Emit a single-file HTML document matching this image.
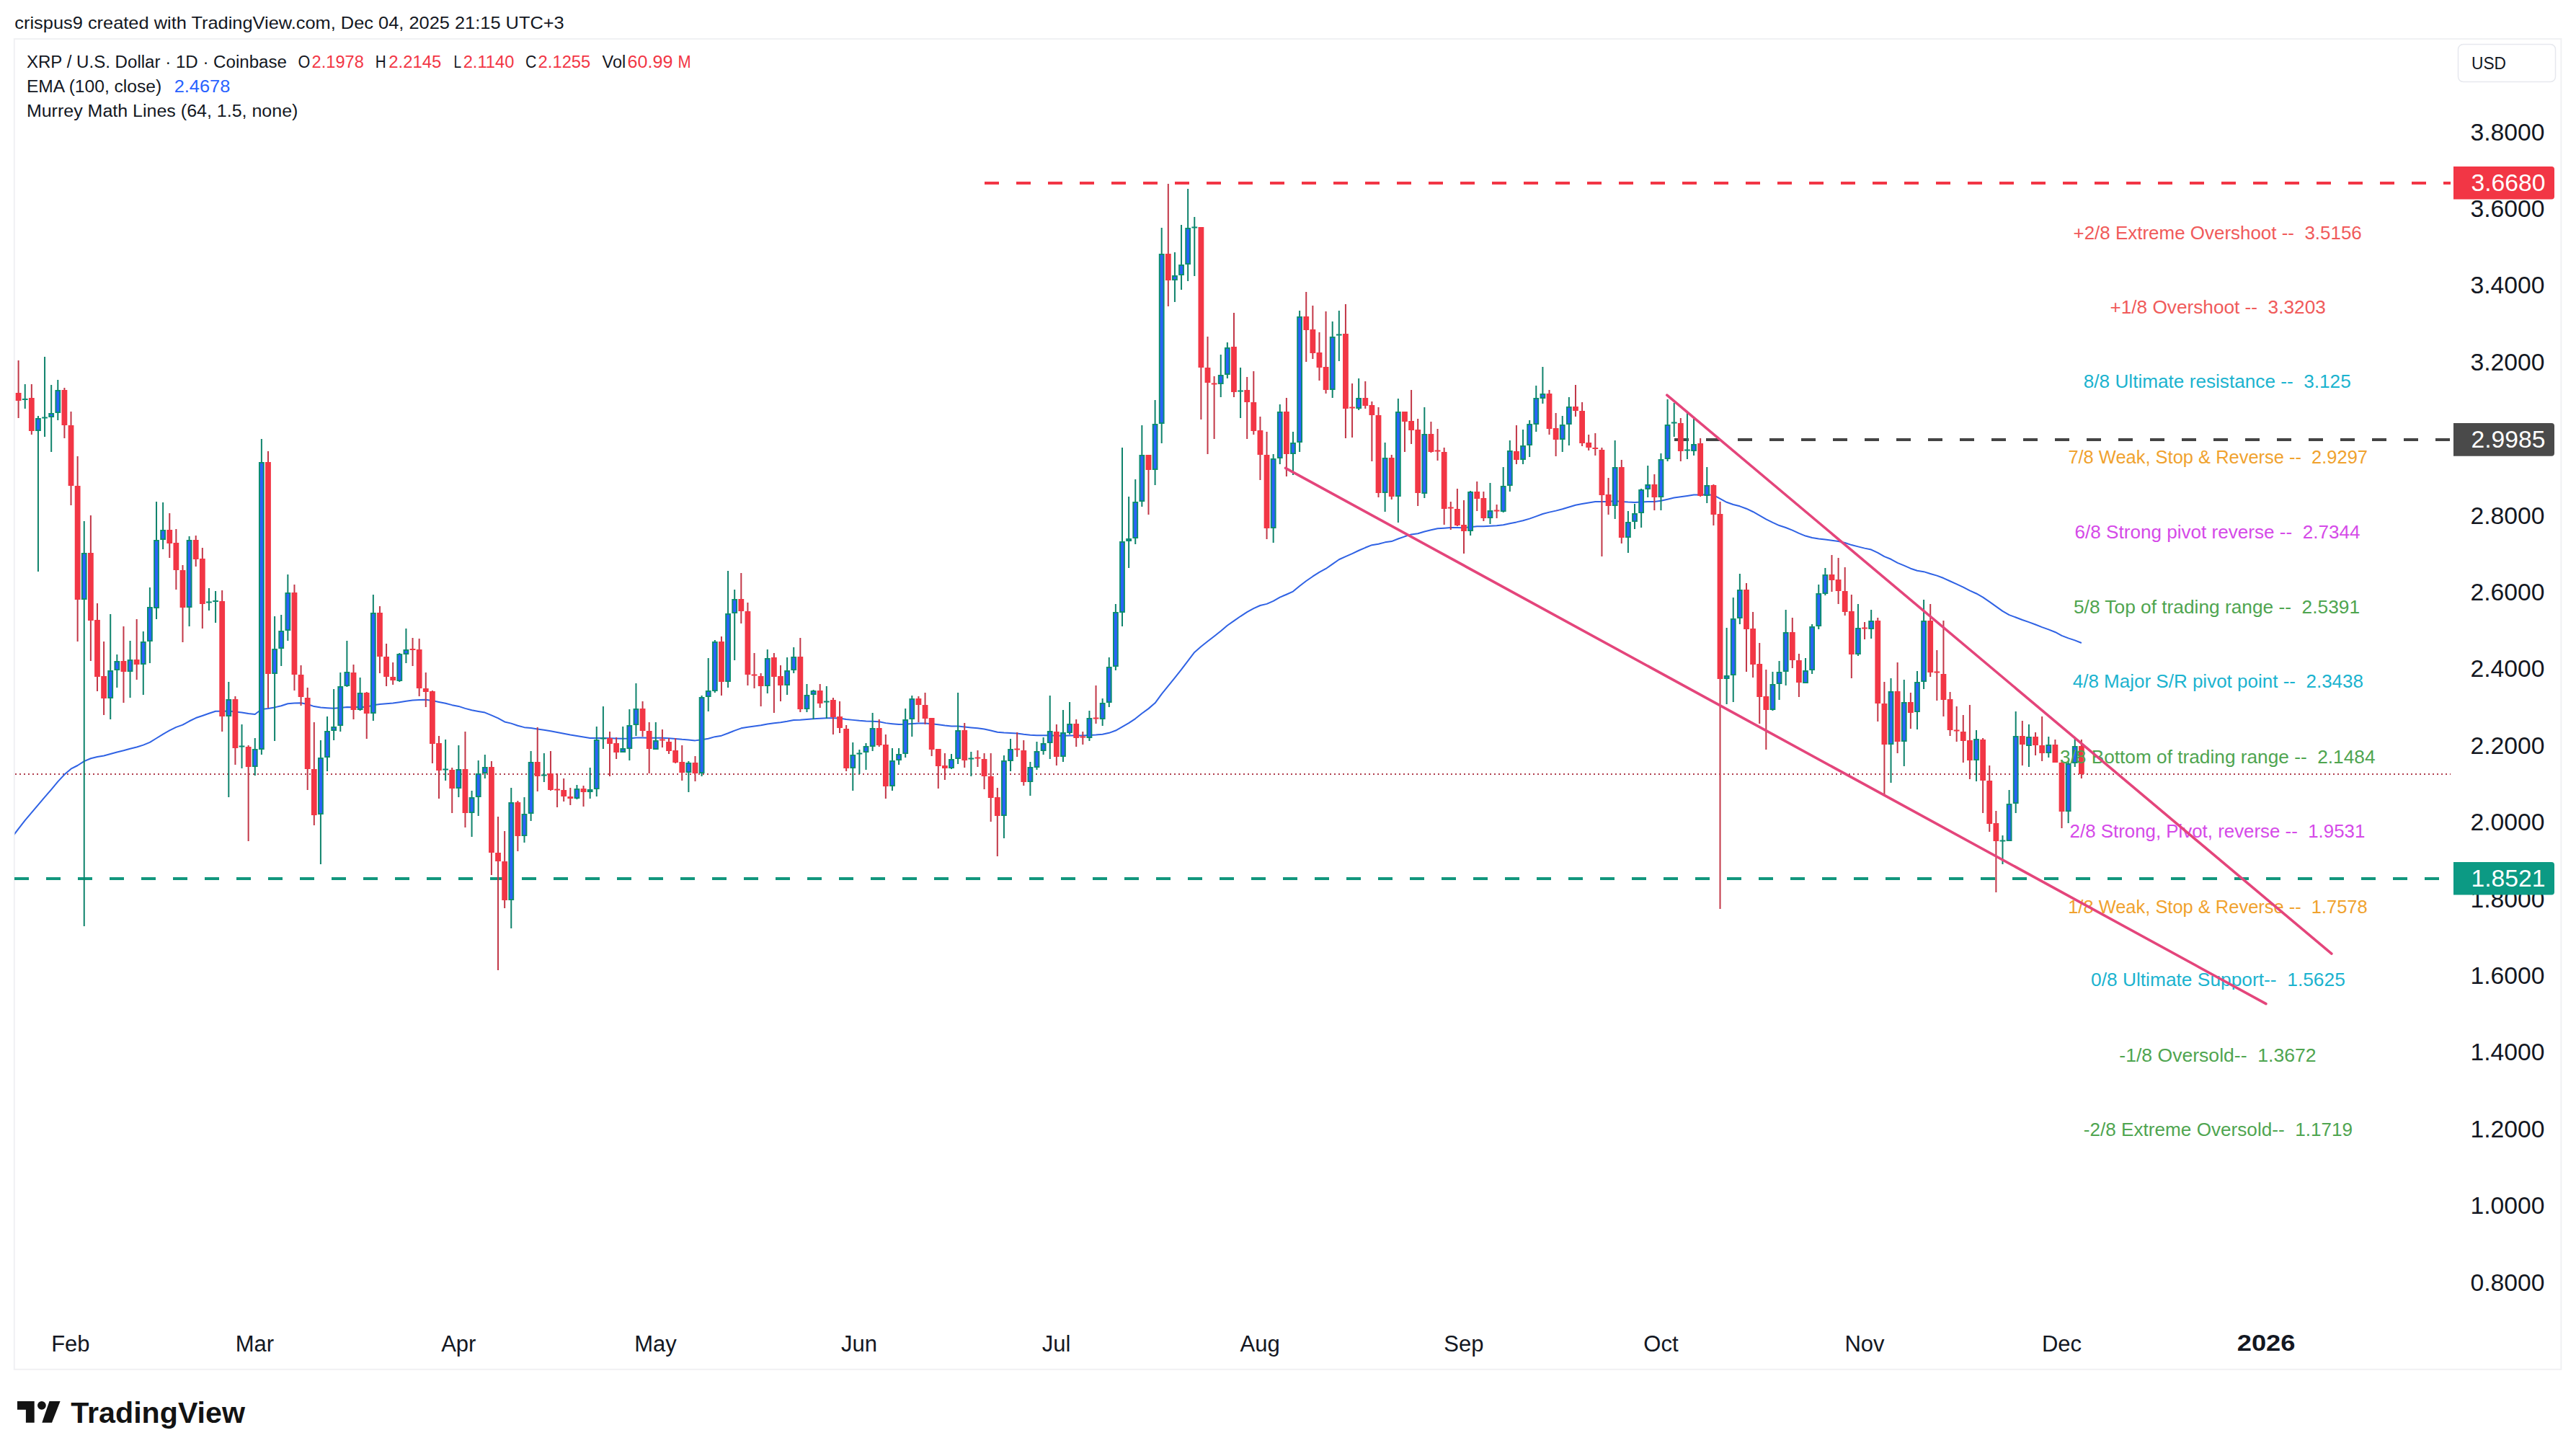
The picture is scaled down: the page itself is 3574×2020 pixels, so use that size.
<!DOCTYPE html>
<html><head><meta charset="utf-8"><title>XRP / U.S. Dollar chart</title>
<style>
html,body{margin:0;padding:0;background:#ffffff;}
body{width:3574px;height:2020px;overflow:hidden;position:relative;font-family:"Liberation Sans", sans-serif;}
svg{position:absolute;left:0;top:0;}
</style></head><body>
<svg width="3574" height="2020" viewBox="0 0 3574 2020" font-family='"Liberation Sans", sans-serif'>
<rect x="0" y="0" width="3574" height="2020" fill="#ffffff"/>
<rect x="19.8" y="54" width="3533.6" height="1845.8" fill="none" stroke="#f0f1f3" stroke-width="2"/>

<path d="M1366 254H3400" stroke="#f23645" stroke-width="4" stroke-dasharray="20 24"/>
<path d="M2323 610H3400" stroke="#444444" stroke-width="4" stroke-dasharray="20 24"/>
<path d="M20 1219H3400" stroke="#12967d" stroke-width="4" stroke-dasharray="20 24"/>
<path d="M21 1074H3400" stroke="#b03e4e" stroke-width="2" stroke-dasharray="2 4"/>
<clipPath id="cp"><rect x="20.5" y="54" width="3380" height="1845"/></clipPath>
<path d="M16.48 1161.88 L25.60 1149.88 L34.72 1138.06 L43.83 1127.37 L52.95 1116.53 L62.06 1105.89 L71.18 1095.33 L80.29 1084.36 L89.41 1074.57 L98.52 1066.64 L107.64 1061.99 L116.75 1056.15 L125.87 1052.28 L134.99 1050.04 L144.10 1048.44 L153.22 1046.09 L162.33 1043.53 L171.45 1041.33 L180.56 1038.82 L189.68 1036.51 L198.79 1033.61 L207.91 1029.81 L217.03 1024.25 L226.14 1018.53 L235.26 1013.29 L244.37 1008.89 L253.49 1005.60 L262.60 1000.52 L271.72 996.07 L280.83 992.94 L289.95 989.82 L299.07 986.71 L308.18 986.86 L317.30 986.52 L326.41 987.54 L335.53 988.48 L344.64 989.98 L353.76 990.95 L362.87 984.02 L371.99 983.05 L381.10 981.40 L390.22 979.30 L399.34 976.18 L408.45 975.39 L417.57 975.22 L426.68 977.04 L435.80 980.09 L444.91 981.49 L454.03 982.13 L463.14 982.65 L472.26 982.04 L481.38 981.05 L490.49 981.13 L499.61 980.73 L508.72 980.91 L517.84 978.32 L526.95 976.99 L536.07 976.23 L545.18 975.60 L554.30 974.24 L563.41 972.79 L572.53 971.39 L581.65 971.06 L590.76 970.84 L599.88 972.05 L608.99 973.97 L618.11 975.81 L627.22 978.15 L636.34 979.91 L645.45 982.85 L654.57 985.29 L663.69 987.02 L672.80 988.55 L681.92 992.40 L691.03 996.41 L700.15 1001.41 L709.26 1003.62 L718.38 1006.72 L727.49 1009.14 L736.61 1010.09 L745.72 1011.41 L754.84 1012.67 L763.96 1014.32 L773.07 1015.94 L782.19 1017.70 L791.30 1019.49 L800.42 1020.97 L809.53 1022.51 L818.65 1023.95 L827.76 1023.99 L836.88 1023.99 L846.00 1024.15 L855.11 1024.54 L864.23 1024.81 L873.34 1024.43 L882.46 1023.61 L891.57 1023.42 L900.69 1023.73 L909.80 1023.80 L918.92 1023.86 L928.03 1024.22 L937.15 1024.89 L946.27 1025.82 L955.38 1026.46 L964.50 1027.38 L973.61 1026.18 L982.73 1024.83 L991.84 1022.16 L1000.96 1020.65 L1010.07 1017.30 L1019.19 1013.61 L1028.31 1010.33 L1037.42 1008.86 L1046.54 1007.43 L1055.65 1006.33 L1064.77 1004.49 L1073.88 1003.19 L1083.00 1002.16 L1092.11 1000.73 L1101.23 998.95 L1110.34 998.65 L1119.46 997.97 L1128.58 997.18 L1137.69 996.76 L1146.81 996.29 L1155.92 996.26 L1165.04 996.53 L1174.15 997.91 L1183.27 998.88 L1192.38 999.79 L1201.50 1000.49 L1210.62 1000.68 L1219.73 1001.34 L1228.85 1003.12 L1237.96 1004.14 L1247.08 1004.97 L1256.19 1004.83 L1265.31 1004.12 L1274.42 1003.61 L1283.54 1003.48 L1292.65 1004.20 L1301.77 1005.36 L1310.89 1006.56 L1320.00 1007.48 L1329.12 1007.59 L1338.23 1008.53 L1347.35 1009.39 L1356.46 1010.24 L1365.58 1011.56 L1374.69 1013.45 L1383.81 1015.80 L1392.92 1016.57 L1402.04 1017.02 L1411.16 1017.47 L1420.27 1018.81 L1429.39 1019.70 L1438.50 1020.14 L1447.62 1020.36 L1456.73 1020.23 L1465.85 1020.82 L1474.96 1020.73 L1484.08 1020.40 L1493.20 1020.47 L1502.31 1020.52 L1511.43 1020.03 L1520.54 1019.58 L1529.66 1018.69 L1538.77 1016.84 L1547.89 1013.51 L1557.00 1008.32 L1566.12 1003.14 L1575.24 997.06 L1584.35 989.81 L1593.47 983.12 L1602.58 975.30 L1611.70 962.96 L1620.81 951.59 L1629.93 940.31 L1639.04 928.96 L1648.16 916.82 L1657.27 904.90 L1666.39 897.08 L1675.51 889.83 L1684.62 882.77 L1693.74 875.58 L1702.85 867.79 L1711.97 861.38 L1721.08 855.05 L1730.20 849.17 L1739.31 844.20 L1748.43 839.98 L1757.55 837.86 L1766.66 833.86 L1775.78 828.66 L1784.89 824.72 L1794.01 820.55 L1803.12 812.99 L1812.24 805.96 L1821.35 799.71 L1830.47 793.97 L1839.58 788.96 L1848.70 782.59 L1857.82 776.28 L1866.93 772.13 L1876.05 768.05 L1885.16 763.77 L1894.28 759.80 L1903.39 756.16 L1912.51 754.73 L1921.62 752.36 L1930.74 751.10 L1939.86 747.54 L1948.97 744.32 L1958.09 741.40 L1967.20 740.26 L1976.32 737.53 L1985.43 735.34 L1994.55 733.17 L2003.66 732.64 L2012.78 732.09 L2021.89 732.03 L2031.01 732.13 L2040.13 731.13 L2049.24 730.36 L2058.36 730.13 L2067.47 729.69 L2076.59 729.28 L2085.70 728.19 L2094.82 726.15 L2103.93 724.40 L2113.05 722.29 L2122.16 719.63 L2131.28 716.32 L2140.40 712.94 L2149.51 710.61 L2158.63 708.62 L2167.74 706.25 L2176.86 703.43 L2185.97 700.79 L2195.09 699.09 L2204.20 697.54 L2213.32 696.07 L2222.44 695.89 L2231.55 696.01 L2240.67 695.06 L2249.78 696.07 L2258.90 696.62 L2268.01 696.92 L2277.13 696.57 L2286.24 696.08 L2295.36 695.96 L2304.47 694.79 L2313.59 692.70 L2322.71 690.59 L2331.82 689.31 L2340.94 688.01 L2350.05 686.59 L2359.17 686.62 L2368.28 686.35 L2377.40 686.89 L2386.51 691.95 L2395.63 696.80 L2404.75 699.99 L2413.86 702.33 L2422.98 705.71 L2432.09 709.99 L2441.21 715.08 L2450.32 720.42 L2459.44 724.95 L2468.55 729.05 L2477.67 731.98 L2486.79 735.62 L2495.90 739.81 L2505.02 743.58 L2514.13 746.06 L2523.25 747.58 L2532.36 748.56 L2541.48 749.68 L2550.59 751.07 L2559.71 753.01 L2568.82 756.08 L2577.94 758.36 L2587.06 760.61 L2596.17 762.59 L2605.29 766.82 L2614.40 772.09 L2623.52 775.79 L2632.63 780.81 L2641.75 784.63 L2650.86 788.68 L2659.98 791.79 L2669.10 793.16 L2678.21 795.93 L2687.33 798.65 L2696.44 802.06 L2705.56 806.24 L2714.67 810.35 L2723.79 814.66 L2732.90 819.42 L2742.02 823.49 L2751.13 828.63 L2760.25 834.86 L2769.37 841.43 L2778.48 847.86 L2787.60 853.15 L2796.71 856.47 L2805.83 859.97 L2814.94 863.18 L2824.06 866.56 L2833.17 870.09 L2842.29 873.32 L2851.41 876.98 L2860.52 881.91 L2869.64 885.41 L2878.75 888.38 L2887.87 892.05" fill="none" stroke="#2f62e4" stroke-width="2" stroke-linejoin="round" clip-path="url(#cp)"/>
<path d="M24.60 500.0h2V580.0h-2zM42.83 533.0h2V603.0h-2zM88.41 538.0h2V608.0h-2zM97.52 571.0h2V701.0h-2zM106.64 633.0h2V890.0h-2zM124.87 715.0h2V917.0h-2zM133.99 837.0h2V959.0h-2zM143.10 890.0h2V992.0h-2zM170.45 869.0h2V975.0h-2zM188.68 859.0h2V943.0h-2zM234.26 712.0h2V774.0h-2zM243.37 734.0h2V818.0h-2zM252.49 784.0h2V891.0h-2zM270.72 743.0h2V786.0h-2zM279.83 760.0h2V872.0h-2zM307.18 819.0h2V1015.0h-2zM325.41 966.0h2V1061.0h-2zM343.64 1034.0h2V1167.0h-2zM370.99 626.0h2V982.0h-2zM407.45 811.0h2V958.0h-2zM416.57 923.0h2V979.0h-2zM425.68 954.0h2V1096.0h-2zM434.80 1002.0h2V1145.0h-2zM489.49 922.0h2V998.0h-2zM507.72 960.0h2V1025.0h-2zM525.95 841.0h2V934.0h-2zM535.07 893.0h2V952.0h-2zM544.18 919.0h2V950.0h-2zM571.53 885.0h2V924.0h-2zM580.65 886.0h2V966.0h-2zM589.76 933.0h2V981.0h-2zM598.88 958.0h2V1059.0h-2zM607.99 1021.0h2V1108.0h-2zM626.22 1065.0h2V1128.0h-2zM644.45 1015.0h2V1148.0h-2zM680.92 1056.0h2V1214.0h-2zM690.03 1133.0h2V1346.0h-2zM699.15 1153.0h2V1260.0h-2zM717.38 1111.0h2V1181.0h-2zM744.72 1009.0h2V1098.0h-2zM762.96 1042.0h2V1097.0h-2zM772.07 1073.0h2V1120.0h-2zM781.19 1080.0h2V1112.0h-2zM790.30 1093.0h2V1117.0h-2zM808.53 1090.0h2V1119.0h-2zM845.00 1015.0h2V1077.0h-2zM854.11 1023.0h2V1053.0h-2zM890.57 973.0h2V1022.0h-2zM899.69 1002.0h2V1073.0h-2zM917.92 1012.0h2V1037.0h-2zM927.03 1024.0h2V1046.0h-2zM936.15 1024.0h2V1059.0h-2zM945.27 1034.0h2V1083.0h-2zM963.50 1049.0h2V1084.0h-2zM999.96 883.0h2V965.0h-2zM1027.31 795.0h2V865.0h-2zM1036.42 836.0h2V951.0h-2zM1045.54 906.0h2V955.0h-2zM1054.65 934.0h2V980.0h-2zM1072.88 906.0h2V989.0h-2zM1082.00 923.0h2V973.0h-2zM1109.34 885.0h2V988.0h-2zM1136.69 949.0h2V982.0h-2zM1154.92 968.0h2V1019.0h-2zM1164.04 973.0h2V1017.0h-2zM1173.15 1006.0h2V1070.0h-2zM1218.73 998.0h2V1036.0h-2zM1227.85 1019.0h2V1108.0h-2zM1273.42 966.0h2V1002.0h-2zM1282.54 961.0h2V1005.0h-2zM1291.65 996.0h2V1049.0h-2zM1300.77 1039.0h2V1094.0h-2zM1309.89 1045.0h2V1082.0h-2zM1337.23 1003.0h2V1065.0h-2zM1355.46 1041.0h2V1064.0h-2zM1364.58 1045.0h2V1095.0h-2zM1373.69 1045.0h2V1140.0h-2zM1382.81 1093.0h2V1188.0h-2zM1410.16 1016.0h2V1050.0h-2zM1419.27 1027.0h2V1090.0h-2zM1464.85 1005.0h2V1062.0h-2zM1492.20 998.0h2V1036.0h-2zM1501.31 1015.0h2V1033.0h-2zM1519.54 951.0h2V1004.0h-2zM1592.47 631.0h2V714.0h-2zM1619.81 255.0h2V425.0h-2zM1665.39 315.0h2V582.0h-2zM1674.51 467.0h2V630.0h-2zM1683.62 522.0h2V609.0h-2zM1710.97 434.0h2V551.0h-2zM1729.20 523.0h2V609.0h-2zM1738.31 515.0h2V603.0h-2zM1747.43 578.0h2V666.0h-2zM1756.55 599.0h2V748.0h-2zM1783.89 552.0h2V661.0h-2zM1811.24 405.0h2V502.0h-2zM1820.35 424.0h2V498.0h-2zM1829.47 461.0h2V528.0h-2zM1838.58 432.0h2V546.0h-2zM1865.93 422.0h2V608.0h-2zM1875.05 532.0h2V607.0h-2zM1893.28 529.0h2V567.0h-2zM1902.39 557.0h2V640.0h-2zM1911.51 565.0h2V690.0h-2zM1929.74 631.0h2V693.0h-2zM1947.97 571.0h2V627.0h-2zM1957.09 541.0h2V616.0h-2zM1966.20 581.0h2V702.0h-2zM1984.43 585.0h2V628.0h-2zM1993.55 595.0h2V639.0h-2zM2002.66 621.0h2V728.0h-2zM2011.78 696.0h2V735.0h-2zM2020.89 678.0h2V730.0h-2zM2030.01 694.0h2V768.0h-2zM2048.24 668.0h2V709.0h-2zM2057.36 682.0h2V723.0h-2zM2075.59 700.0h2V719.0h-2zM2102.93 590.0h2V644.0h-2zM2148.51 541.0h2V603.0h-2zM2157.63 573.0h2V633.0h-2zM2184.97 534.0h2V578.0h-2zM2194.09 558.0h2V619.0h-2zM2203.20 603.0h2V625.0h-2zM2212.32 601.0h2V632.0h-2zM2221.44 621.0h2V772.0h-2zM2230.55 663.0h2V714.0h-2zM2248.78 638.0h2V754.0h-2zM2294.36 658.0h2V708.0h-2zM2330.82 580.0h2V640.0h-2zM2358.17 608.0h2V689.0h-2zM2376.40 672.0h2V729.0h-2zM2385.51 696.0h2V1261.0h-2zM2421.98 809.0h2V932.0h-2zM2431.09 849.0h2V940.0h-2zM2440.21 892.0h2V1004.0h-2zM2449.32 929.0h2V1040.0h-2zM2485.79 857.0h2V927.0h-2zM2494.90 907.0h2V967.0h-2zM2540.48 770.0h2V821.0h-2zM2549.59 774.0h2V838.0h-2zM2558.71 787.0h2V854.0h-2zM2567.82 825.0h2V941.0h-2zM2586.06 863.0h2V887.0h-2zM2604.29 857.0h2V1001.0h-2zM2613.40 946.0h2V1103.0h-2zM2631.63 919.0h2V1045.0h-2zM2649.86 961.0h2V1011.0h-2zM2677.21 838.0h2V939.0h-2zM2686.33 902.0h2V972.0h-2zM2695.44 861.0h2V994.0h-2zM2704.56 960.0h2V1021.0h-2zM2713.67 980.0h2V1029.0h-2zM2722.79 992.0h2V1058.0h-2zM2731.90 978.0h2V1081.0h-2zM2750.13 1024.0h2V1128.0h-2zM2759.25 1062.0h2V1154.0h-2zM2768.37 1125.0h2V1238.0h-2zM2804.83 1000.0h2V1062.0h-2zM2823.06 1016.0h2V1048.0h-2zM2832.17 994.0h2V1056.0h-2zM2850.41 1026.0h2V1058.0h-2zM2859.52 1054.0h2V1149.0h-2zM2886.87 1026.0h2V1080.0h-2z" fill="#c23747"/>
<path d="M21.70 545.0h7.8V556.0h-7.8zM39.93 552.0h7.8V598.0h-7.8zM85.51 541.0h7.8V590.0h-7.8zM94.62 590.0h7.8V674.0h-7.8zM103.74 674.0h7.8V832.0h-7.8zM121.97 767.0h7.8V861.0h-7.8zM131.09 860.0h7.8V939.0h-7.8zM140.20 938.0h7.8V969.0h-7.8zM167.55 917.0h7.8V932.0h-7.8zM185.78 915.0h7.8V922.0h-7.8zM231.36 735.0h7.8V754.0h-7.8zM240.47 753.0h7.8V791.0h-7.8zM249.59 791.0h7.8V843.0h-7.8zM267.82 749.0h7.8V776.0h-7.8zM276.93 775.0h7.8V838.0h-7.8zM304.28 834.0h7.8V994.0h-7.8zM322.51 970.0h7.8V1038.0h-7.8zM340.74 1036.0h7.8V1064.0h-7.8zM368.09 641.0h7.8V935.0h-7.8zM404.55 822.0h7.8V936.0h-7.8zM413.67 936.0h7.8V967.0h-7.8zM422.78 968.0h7.8V1067.0h-7.8zM431.90 1067.0h7.8V1131.0h-7.8zM486.59 933.0h7.8V985.0h-7.8zM504.82 961.0h7.8V990.0h-7.8zM523.05 850.0h7.8V911.0h-7.8zM532.17 911.0h7.8V939.0h-7.8zM541.28 939.0h7.8V944.0h-7.8zM568.63 900.0h7.8V902.0h-7.8zM577.75 901.0h7.8V955.0h-7.8zM586.86 955.0h7.8V960.0h-7.8zM595.98 959.0h7.8V1032.0h-7.8zM605.09 1031.0h7.8V1069.0h-7.8zM623.32 1068.0h7.8V1094.0h-7.8zM641.55 1067.0h7.8V1128.0h-7.8zM678.02 1064.0h7.8V1183.0h-7.8zM687.13 1183.0h7.8V1195.0h-7.8zM696.25 1195.0h7.8V1249.0h-7.8zM714.48 1113.0h7.8V1160.0h-7.8zM741.82 1057.0h7.8V1077.0h-7.8zM760.06 1073.0h7.8V1096.0h-7.8zM769.17 1094.5h7.8V1096.5h-7.8zM778.29 1096.0h7.8V1105.0h-7.8zM787.40 1105.0h7.8V1108.0h-7.8zM805.63 1094.0h7.8V1099.0h-7.8zM842.10 1024.0h7.8V1032.0h-7.8zM851.21 1031.0h7.8V1044.0h-7.8zM887.67 983.0h7.8V1014.0h-7.8zM896.79 1014.0h7.8V1039.0h-7.8zM915.02 1025.5h7.8V1027.5h-7.8zM924.13 1029.0h7.8V1042.0h-7.8zM933.25 1041.0h7.8V1058.0h-7.8zM942.37 1057.0h7.8V1072.0h-7.8zM960.60 1058.0h7.8V1073.0h-7.8zM997.06 890.0h7.8V946.0h-7.8zM1024.40 831.0h7.8V848.0h-7.8zM1033.52 848.0h7.8V936.0h-7.8zM1042.64 935.5h7.8V937.5h-7.8zM1051.75 938.0h7.8V952.0h-7.8zM1069.98 912.0h7.8V939.0h-7.8zM1079.10 938.0h7.8V951.0h-7.8zM1106.44 911.0h7.8V984.0h-7.8zM1133.79 958.0h7.8V976.0h-7.8zM1152.02 971.0h7.8V995.0h-7.8zM1161.14 994.0h7.8V1010.0h-7.8zM1170.25 1011.0h7.8V1066.0h-7.8zM1215.83 1010.0h7.8V1034.0h-7.8zM1224.95 1033.0h7.8V1091.0h-7.8zM1270.52 969.0h7.8V978.0h-7.8zM1279.64 978.0h7.8V997.0h-7.8zM1288.75 996.0h7.8V1040.0h-7.8zM1297.87 1039.0h7.8V1063.0h-7.8zM1306.99 1062.0h7.8V1066.0h-7.8zM1334.33 1013.0h7.8V1055.0h-7.8zM1352.56 1050.5h7.8V1052.5h-7.8zM1361.68 1053.0h7.8V1077.0h-7.8zM1370.79 1077.0h7.8V1107.0h-7.8zM1379.91 1106.0h7.8V1132.0h-7.8zM1407.26 1038.5h7.8V1040.5h-7.8zM1416.37 1041.0h7.8V1085.0h-7.8zM1461.95 1015.0h7.8V1050.0h-7.8zM1489.30 1004.0h7.8V1024.0h-7.8zM1498.41 1021.5h7.8V1023.5h-7.8zM1516.64 995.5h7.8V997.5h-7.8zM1589.57 631.0h7.8V652.0h-7.8zM1616.91 352.0h7.8V389.0h-7.8zM1662.49 315.0h7.8V510.0h-7.8zM1671.61 510.0h7.8V531.0h-7.8zM1680.72 531.5h7.8V533.5h-7.8zM1708.07 481.0h7.8V544.0h-7.8zM1726.30 541.0h7.8V558.0h-7.8zM1735.41 558.0h7.8V598.0h-7.8zM1744.53 597.0h7.8V631.0h-7.8zM1753.64 631.0h7.8V733.0h-7.8zM1780.99 571.0h7.8V630.0h-7.8zM1808.34 439.0h7.8V458.0h-7.8zM1817.45 457.0h7.8V490.0h-7.8zM1826.57 489.0h7.8V510.0h-7.8zM1835.68 509.0h7.8V541.0h-7.8zM1863.03 463.0h7.8V567.0h-7.8zM1872.15 564.5h7.8V566.5h-7.8zM1890.38 552.0h7.8V563.0h-7.8zM1899.49 562.0h7.8V576.0h-7.8zM1908.61 576.0h7.8V684.0h-7.8zM1926.84 635.0h7.8V689.0h-7.8zM1945.07 571.0h7.8V585.0h-7.8zM1954.19 584.0h7.8V597.0h-7.8zM1963.30 596.0h7.8V684.0h-7.8zM1981.53 602.0h7.8V627.0h-7.8zM1990.65 624.5h7.8V626.5h-7.8zM1999.76 627.0h7.8V706.0h-7.8zM2008.88 703.5h7.8V705.5h-7.8zM2017.99 706.0h7.8V729.0h-7.8zM2027.11 728.0h7.8V737.0h-7.8zM2045.34 682.0h7.8V692.0h-7.8zM2054.46 691.0h7.8V719.0h-7.8zM2072.69 707.5h7.8V709.5h-7.8zM2100.03 626.0h7.8V638.0h-7.8zM2145.61 546.0h7.8V595.0h-7.8zM2154.73 594.0h7.8V610.0h-7.8zM2182.07 564.0h7.8V570.0h-7.8zM2191.19 570.0h7.8V615.0h-7.8zM2200.30 614.0h7.8V621.0h-7.8zM2209.42 621.0h7.8V623.0h-7.8zM2218.54 624.0h7.8V687.0h-7.8zM2227.65 686.0h7.8V702.0h-7.8zM2245.88 648.0h7.8V746.0h-7.8zM2291.46 672.0h7.8V690.0h-7.8zM2327.92 587.0h7.8V626.0h-7.8zM2355.27 615.0h7.8V688.0h-7.8zM2373.50 673.0h7.8V714.0h-7.8zM2382.61 713.0h7.8V942.0h-7.8zM2419.08 818.0h7.8V873.0h-7.8zM2428.19 872.0h7.8V922.0h-7.8zM2437.31 921.0h7.8V967.0h-7.8zM2446.42 966.0h7.8V985.0h-7.8zM2482.89 877.0h7.8V916.0h-7.8zM2492.00 916.0h7.8V947.0h-7.8zM2537.58 797.0h7.8V805.0h-7.8zM2546.69 804.0h7.8V820.0h-7.8zM2555.81 820.0h7.8V849.0h-7.8zM2564.92 848.0h7.8V908.0h-7.8zM2583.16 870.5h7.8V872.5h-7.8zM2601.39 861.0h7.8V976.0h-7.8zM2610.50 976.0h7.8V1033.0h-7.8zM2628.73 959.0h7.8V1029.0h-7.8zM2646.96 974.0h7.8V989.0h-7.8zM2674.31 861.0h7.8V933.0h-7.8zM2683.43 931.5h7.8V933.5h-7.8zM2692.54 935.0h7.8V971.0h-7.8zM2701.66 970.0h7.8V1013.0h-7.8zM2710.77 1012.5h7.8V1014.5h-7.8zM2719.89 1015.0h7.8V1028.0h-7.8zM2729.00 1027.0h7.8V1055.0h-7.8zM2747.23 1026.0h7.8V1083.0h-7.8zM2756.35 1083.0h7.8V1143.0h-7.8zM2765.47 1142.0h7.8V1167.0h-7.8zM2801.93 1021.0h7.8V1033.0h-7.8zM2820.16 1022.0h7.8V1034.0h-7.8zM2829.27 1034.0h7.8V1045.0h-7.8zM2847.51 1033.0h7.8V1058.0h-7.8zM2856.62 1058.0h7.8V1126.0h-7.8zM2883.97 1035.0h7.8V1074.0h-7.8z" fill="#f23645"/>
<path d="M33.72 533.0h2V567.0h-2zM51.95 577.0h2V793.0h-2zM61.06 495.0h2V606.0h-2zM70.18 534.0h2V627.0h-2zM79.29 527.0h2V583.0h-2zM115.75 723.0h2V1285.0h-2zM152.22 852.0h2V998.0h-2zM161.33 908.0h2V954.0h-2zM179.56 889.0h2V968.0h-2zM197.79 876.0h2V964.0h-2zM206.91 815.0h2V920.0h-2zM216.03 696.0h2V859.0h-2zM225.14 697.0h2V762.0h-2zM261.60 744.0h2V869.0h-2zM288.95 816.0h2V847.0h-2zM298.07 820.0h2V864.0h-2zM316.30 946.0h2V1106.0h-2zM334.53 1005.0h2V1066.0h-2zM352.76 1024.0h2V1076.0h-2zM361.87 609.0h2V1047.0h-2zM380.10 855.0h2V1028.0h-2zM389.22 853.0h2V924.0h-2zM398.34 797.0h2V889.0h-2zM443.91 1027.0h2V1199.0h-2zM453.03 994.0h2V1070.0h-2zM462.14 956.0h2V1027.0h-2zM471.26 933.0h2V1015.0h-2zM480.38 889.0h2V953.0h-2zM498.61 940.0h2V986.0h-2zM516.84 825.0h2V1000.0h-2zM553.30 906.0h2V946.0h-2zM562.41 872.0h2V920.0h-2zM617.11 1026.0h2V1083.0h-2zM635.34 1034.0h2V1106.0h-2zM653.57 1097.0h2V1161.0h-2zM662.69 1055.0h2V1132.0h-2zM671.80 1047.0h2V1080.0h-2zM708.26 1093.0h2V1288.0h-2zM726.49 1106.0h2V1169.0h-2zM735.61 1042.0h2V1139.0h-2zM753.84 1045.0h2V1085.0h-2zM799.42 1089.0h2V1109.0h-2zM817.65 1065.0h2V1108.0h-2zM826.76 1008.0h2V1105.0h-2zM835.88 980.0h2V1039.0h-2zM863.23 1008.0h2V1044.0h-2zM872.34 984.0h2V1055.0h-2zM881.46 948.0h2V1021.0h-2zM908.80 1002.0h2V1040.0h-2zM954.38 1056.0h2V1099.0h-2zM972.61 965.0h2V1077.0h-2zM981.73 913.0h2V987.0h-2zM990.84 888.0h2V961.0h-2zM1009.07 792.0h2V954.0h-2zM1018.19 818.0h2V916.0h-2zM1063.77 901.0h2V962.0h-2zM1091.11 912.0h2V964.0h-2zM1100.23 898.0h2V934.0h-2zM1118.46 949.0h2V988.0h-2zM1127.58 957.0h2V998.0h-2zM1145.81 952.0h2V997.0h-2zM1182.27 1030.0h2V1097.0h-2zM1191.38 1040.0h2V1074.0h-2zM1200.50 1031.0h2V1068.0h-2zM1209.62 989.0h2V1042.0h-2zM1236.96 1038.0h2V1097.0h-2zM1246.08 1038.0h2V1061.0h-2zM1255.19 983.0h2V1051.0h-2zM1264.31 965.0h2V1022.0h-2zM1319.00 1046.0h2V1067.0h-2zM1328.12 961.0h2V1060.0h-2zM1346.35 1043.0h2V1077.0h-2zM1391.92 1048.0h2V1163.0h-2zM1401.04 1025.0h2V1070.0h-2zM1428.39 1057.0h2V1104.0h-2zM1437.50 1029.0h2V1068.0h-2zM1446.62 1023.0h2V1047.0h-2zM1455.73 965.0h2V1053.0h-2zM1473.96 985.0h2V1057.0h-2zM1483.08 974.0h2V1019.0h-2zM1510.43 986.0h2V1028.0h-2zM1528.66 969.0h2V1007.0h-2zM1537.77 912.0h2V981.0h-2zM1546.89 838.0h2V930.0h-2zM1556.00 621.0h2V869.0h-2zM1565.12 689.0h2V788.0h-2zM1574.24 665.0h2V755.0h-2zM1583.35 590.0h2V703.0h-2zM1601.58 555.0h2V673.0h-2zM1610.70 316.0h2V615.0h-2zM1628.93 350.0h2V419.0h-2zM1638.04 312.0h2V402.0h-2zM1647.16 262.0h2V390.0h-2zM1656.27 301.0h2V383.0h-2zM1692.74 492.0h2V551.0h-2zM1701.85 475.0h2V525.0h-2zM1720.08 510.0h2V580.0h-2zM1765.66 630.0h2V753.0h-2zM1774.78 561.0h2V644.0h-2zM1793.01 599.0h2V659.0h-2zM1802.12 431.0h2V627.0h-2zM1847.70 446.0h2V552.0h-2zM1856.82 431.0h2V501.0h-2zM1884.16 525.0h2V569.0h-2zM1920.62 614.0h2V710.0h-2zM1938.86 553.0h2V725.0h-2zM1975.32 565.0h2V691.0h-2zM2039.13 681.0h2V743.0h-2zM2066.47 670.0h2V727.0h-2zM2084.70 648.0h2V711.0h-2zM2093.82 611.0h2V682.0h-2zM2112.05 596.0h2V644.0h-2zM2121.16 583.0h2V634.0h-2zM2130.28 535.0h2V599.0h-2zM2139.40 509.0h2V560.0h-2zM2166.74 577.0h2V627.0h-2zM2175.86 551.0h2V618.0h-2zM2239.67 611.0h2V720.0h-2zM2257.90 709.0h2V767.0h-2zM2267.01 699.0h2V734.0h-2zM2276.13 678.0h2V732.0h-2zM2285.24 646.0h2V690.0h-2zM2303.47 629.0h2V708.0h-2zM2312.59 554.0h2V640.0h-2zM2321.71 559.0h2V606.0h-2zM2339.94 572.0h2V637.0h-2zM2349.05 581.0h2V632.0h-2zM2367.28 648.0h2V698.0h-2zM2394.63 871.0h2V977.0h-2zM2403.75 829.0h2V974.0h-2zM2412.86 796.0h2V866.0h-2zM2458.44 932.0h2V986.0h-2zM2467.55 917.0h2V971.0h-2zM2476.67 846.0h2V951.0h-2zM2504.02 913.0h2V948.0h-2zM2513.13 866.0h2V935.0h-2zM2522.25 811.0h2V873.0h-2zM2531.36 788.0h2V826.0h-2zM2576.94 838.0h2V910.0h-2zM2595.17 846.0h2V886.0h-2zM2622.52 941.0h2V1086.0h-2zM2640.75 943.0h2V1063.0h-2zM2658.98 931.0h2V1012.0h-2zM2668.10 832.0h2V956.0h-2zM2741.02 1013.0h2V1084.0h-2zM2777.48 1159.0h2V1199.0h-2zM2786.60 1096.0h2V1167.0h-2zM2795.71 987.0h2V1128.0h-2zM2813.94 1005.0h2V1064.0h-2zM2841.29 1022.0h2V1051.0h-2zM2868.64 1055.0h2V1142.0h-2zM2877.75 1024.0h2V1064.0h-2z" fill="#0f836c"/>
<path d="M30.82 553.0h7.8V555.0h-7.8zM49.05 580.0h7.8V598.0h-7.8zM58.16 578.5h7.8V580.5h-7.8zM67.28 573.0h7.8V579.0h-7.8zM76.39 541.0h7.8V573.0h-7.8zM112.85 767.0h7.8V832.0h-7.8zM149.32 930.0h7.8V969.0h-7.8zM158.43 917.0h7.8V930.0h-7.8zM176.66 915.0h7.8V932.0h-7.8zM194.89 890.0h7.8V922.0h-7.8zM204.01 842.0h7.8V890.0h-7.8zM213.13 749.0h7.8V844.0h-7.8zM222.24 735.0h7.8V749.0h-7.8zM258.70 749.0h7.8V843.0h-7.8zM286.05 834.5h7.8V836.5h-7.8zM295.17 833.0h7.8V835.0h-7.8zM313.40 970.0h7.8V994.0h-7.8zM331.63 1034.5h7.8V1036.5h-7.8zM349.86 1039.0h7.8V1064.0h-7.8zM358.97 641.0h7.8V1040.0h-7.8zM377.20 900.0h7.8V935.0h-7.8zM386.32 875.0h7.8V900.0h-7.8zM395.44 822.0h7.8V875.0h-7.8zM441.01 1051.0h7.8V1130.0h-7.8zM450.13 1014.0h7.8V1051.0h-7.8zM459.24 1008.0h7.8V1014.0h-7.8zM468.36 952.0h7.8V1007.0h-7.8zM477.48 932.0h7.8V952.0h-7.8zM495.71 961.0h7.8V985.0h-7.8zM513.94 850.0h7.8V990.0h-7.8zM550.40 907.0h7.8V945.0h-7.8zM559.51 901.0h7.8V908.0h-7.8zM614.21 1066.5h7.8V1068.5h-7.8zM632.44 1067.0h7.8V1094.0h-7.8zM650.67 1106.0h7.8V1128.0h-7.8zM659.79 1073.0h7.8V1106.0h-7.8zM668.90 1064.0h7.8V1073.0h-7.8zM705.36 1113.0h7.8V1249.0h-7.8zM723.59 1129.0h7.8V1160.0h-7.8zM732.71 1057.0h7.8V1129.0h-7.8zM750.94 1074.5h7.8V1076.5h-7.8zM796.52 1094.0h7.8V1108.0h-7.8zM814.75 1095.0h7.8V1099.0h-7.8zM823.86 1026.0h7.8V1095.0h-7.8zM832.98 1023.5h7.8V1025.5h-7.8zM860.33 1038.0h7.8V1044.0h-7.8zM869.44 1006.0h7.8V1039.0h-7.8zM878.56 983.0h7.8V1006.0h-7.8zM905.90 1027.0h7.8V1040.0h-7.8zM951.48 1058.0h7.8V1072.0h-7.8zM969.71 967.0h7.8V1073.0h-7.8zM978.83 958.0h7.8V967.0h-7.8zM987.94 890.0h7.8V959.0h-7.8zM1006.17 851.0h7.8V946.0h-7.8zM1015.29 831.0h7.8V851.0h-7.8zM1060.87 913.0h7.8V952.0h-7.8zM1088.21 930.0h7.8V951.0h-7.8zM1097.33 911.0h7.8V930.0h-7.8zM1115.56 964.0h7.8V984.0h-7.8zM1124.68 958.0h7.8V964.0h-7.8zM1142.91 972.5h7.8V974.5h-7.8zM1179.37 1047.0h7.8V1066.0h-7.8zM1188.48 1044.5h7.8V1046.5h-7.8zM1197.60 1035.0h7.8V1044.0h-7.8zM1206.71 1010.0h7.8V1036.0h-7.8zM1234.06 1055.0h7.8V1091.0h-7.8zM1243.18 1046.0h7.8V1055.0h-7.8zM1252.29 998.0h7.8V1046.0h-7.8zM1261.41 969.0h7.8V998.0h-7.8zM1316.10 1053.0h7.8V1066.0h-7.8zM1325.22 1013.0h7.8V1053.0h-7.8zM1343.45 1051.5h7.8V1053.5h-7.8zM1389.02 1055.0h7.8V1132.0h-7.8zM1398.14 1039.0h7.8V1056.0h-7.8zM1425.49 1064.0h7.8V1085.0h-7.8zM1434.60 1042.0h7.8V1065.0h-7.8zM1443.72 1031.0h7.8V1042.0h-7.8zM1452.83 1014.0h7.8V1031.0h-7.8zM1471.06 1016.0h7.8V1050.0h-7.8zM1480.18 1004.0h7.8V1017.0h-7.8zM1507.53 996.0h7.8V1024.0h-7.8zM1525.76 975.0h7.8V998.0h-7.8zM1534.87 925.0h7.8V975.0h-7.8zM1543.99 849.0h7.8V925.0h-7.8zM1553.10 751.0h7.8V850.0h-7.8zM1562.22 747.0h7.8V751.0h-7.8zM1571.34 696.0h7.8V747.0h-7.8zM1580.45 631.0h7.8V696.0h-7.8zM1598.68 588.0h7.8V652.0h-7.8zM1607.80 352.0h7.8V588.0h-7.8zM1626.03 382.0h7.8V389.0h-7.8zM1635.14 367.0h7.8V382.0h-7.8zM1644.26 316.0h7.8V367.0h-7.8zM1653.37 314.5h7.8V316.5h-7.8zM1689.84 520.0h7.8V533.0h-7.8zM1698.95 482.0h7.8V520.0h-7.8zM1717.18 541.5h7.8V543.5h-7.8zM1762.76 636.0h7.8V733.0h-7.8zM1771.88 571.0h7.8V636.0h-7.8zM1790.11 614.0h7.8V630.0h-7.8zM1799.22 439.0h7.8V614.0h-7.8zM1844.80 467.0h7.8V541.0h-7.8zM1853.92 463.5h7.8V465.5h-7.8zM1881.26 552.0h7.8V567.0h-7.8zM1917.72 635.0h7.8V684.0h-7.8zM1935.95 571.0h7.8V689.0h-7.8zM1972.42 602.0h7.8V685.0h-7.8zM2036.23 682.0h7.8V737.0h-7.8zM2063.57 708.0h7.8V719.0h-7.8zM2081.80 674.0h7.8V710.0h-7.8zM2090.92 625.0h7.8V674.0h-7.8zM2109.15 618.0h7.8V638.0h-7.8zM2118.26 588.0h7.8V618.0h-7.8zM2127.38 552.0h7.8V589.0h-7.8zM2136.50 546.0h7.8V553.0h-7.8zM2163.84 589.0h7.8V610.0h-7.8zM2172.96 564.0h7.8V589.0h-7.8zM2236.77 648.0h7.8V702.0h-7.8zM2255.00 724.0h7.8V746.0h-7.8zM2264.11 712.0h7.8V724.0h-7.8zM2273.23 679.0h7.8V712.0h-7.8zM2282.34 672.0h7.8V679.0h-7.8zM2300.57 637.0h7.8V690.0h-7.8zM2309.69 589.0h7.8V637.0h-7.8zM2318.81 585.5h7.8V587.5h-7.8zM2337.04 623.5h7.8V625.5h-7.8zM2346.15 616.0h7.8V626.0h-7.8zM2364.38 673.0h7.8V688.0h-7.8zM2391.73 937.0h7.8V942.0h-7.8zM2400.85 858.0h7.8V937.0h-7.8zM2409.96 818.0h7.8V858.0h-7.8zM2455.54 949.0h7.8V985.0h-7.8zM2464.65 932.0h7.8V949.0h-7.8zM2473.77 877.0h7.8V932.0h-7.8zM2501.12 930.0h7.8V948.0h-7.8zM2510.23 869.0h7.8V930.0h-7.8zM2519.35 823.0h7.8V869.0h-7.8zM2528.46 797.0h7.8V824.0h-7.8zM2574.04 871.0h7.8V908.0h-7.8zM2592.27 861.0h7.8V873.0h-7.8zM2619.62 959.0h7.8V1033.0h-7.8zM2637.85 974.0h7.8V1029.0h-7.8zM2656.08 946.0h7.8V988.0h-7.8zM2665.20 861.0h7.8V946.0h-7.8zM2738.12 1025.0h7.8V1055.0h-7.8zM2774.58 1165.5h7.8V1167.5h-7.8zM2783.70 1115.0h7.8V1167.0h-7.8zM2792.81 1021.0h7.8V1115.0h-7.8zM2811.04 1022.0h7.8V1035.0h-7.8zM2838.39 1033.0h7.8V1045.0h-7.8zM2865.74 1059.0h7.8V1126.0h-7.8zM2874.85 1035.0h7.8V1059.0h-7.8z" fill="#0b8c72"/>
<path d="M51.05 581.9h3.8V596.1h-3.8zM69.28 574.9h3.8V577.1h-3.8zM78.39 542.9h3.8V571.1h-3.8zM114.85 768.9h3.8V830.1h-3.8zM151.32 931.9h3.8V967.1h-3.8zM160.43 918.9h3.8V928.1h-3.8zM178.66 916.9h3.8V930.1h-3.8zM196.89 891.9h3.8V920.1h-3.8zM206.01 843.9h3.8V888.1h-3.8zM215.13 750.9h3.8V842.1h-3.8zM224.24 736.9h3.8V747.1h-3.8zM260.70 750.9h3.8V841.1h-3.8zM315.40 971.9h3.8V992.1h-3.8zM351.86 1040.9h3.8V1062.1h-3.8zM360.97 642.9h3.8V1038.1h-3.8zM379.20 901.9h3.8V933.1h-3.8zM388.32 876.9h3.8V898.1h-3.8zM397.44 823.9h3.8V873.1h-3.8zM443.01 1052.9h3.8V1128.1h-3.8zM452.13 1015.9h3.8V1049.1h-3.8zM461.24 1009.9h3.8V1012.1h-3.8zM470.36 953.9h3.8V1005.1h-3.8zM479.48 933.9h3.8V950.1h-3.8zM497.71 962.9h3.8V983.1h-3.8zM515.94 851.9h3.8V988.1h-3.8zM552.40 908.9h3.8V943.1h-3.8zM561.51 902.9h3.8V906.1h-3.8zM634.44 1068.9h3.8V1092.1h-3.8zM652.67 1107.9h3.8V1126.1h-3.8zM661.79 1074.9h3.8V1104.1h-3.8zM670.90 1065.9h3.8V1071.1h-3.8zM707.36 1114.9h3.8V1247.1h-3.8zM725.59 1130.9h3.8V1158.1h-3.8zM734.71 1058.9h3.8V1127.1h-3.8zM798.52 1095.9h3.8V1106.1h-3.8zM825.86 1027.9h3.8V1093.1h-3.8zM862.33 1039.9h3.8V1042.1h-3.8zM871.44 1007.9h3.8V1037.1h-3.8zM880.56 984.9h3.8V1004.1h-3.8zM907.90 1028.9h3.8V1038.1h-3.8zM953.48 1059.9h3.8V1070.1h-3.8zM971.71 968.9h3.8V1071.1h-3.8zM980.83 959.9h3.8V965.1h-3.8zM989.94 891.9h3.8V957.1h-3.8zM1008.17 852.9h3.8V944.1h-3.8zM1017.29 832.9h3.8V849.1h-3.8zM1062.87 914.9h3.8V950.1h-3.8zM1090.21 931.9h3.8V949.1h-3.8zM1099.33 912.9h3.8V928.1h-3.8zM1117.56 965.9h3.8V982.1h-3.8zM1126.68 959.9h3.8V962.1h-3.8zM1181.37 1048.9h3.8V1064.1h-3.8zM1199.60 1036.9h3.8V1042.1h-3.8zM1208.71 1011.9h3.8V1034.1h-3.8zM1236.06 1056.9h3.8V1089.1h-3.8zM1245.18 1047.9h3.8V1053.1h-3.8zM1254.29 999.9h3.8V1044.1h-3.8zM1263.41 970.9h3.8V996.1h-3.8zM1318.10 1054.9h3.8V1064.1h-3.8zM1327.22 1014.9h3.8V1051.1h-3.8zM1391.02 1056.9h3.8V1130.1h-3.8zM1400.14 1040.9h3.8V1054.1h-3.8zM1427.49 1065.9h3.8V1083.1h-3.8zM1436.60 1043.9h3.8V1063.1h-3.8zM1445.72 1032.9h3.8V1040.1h-3.8zM1454.83 1015.9h3.8V1029.1h-3.8zM1473.06 1017.9h3.8V1048.1h-3.8zM1482.18 1005.9h3.8V1015.1h-3.8zM1509.53 997.9h3.8V1022.1h-3.8zM1527.76 976.9h3.8V996.1h-3.8zM1536.87 926.9h3.8V973.1h-3.8zM1545.99 850.9h3.8V923.1h-3.8zM1555.10 752.9h3.8V848.1h-3.8zM1573.34 697.9h3.8V745.1h-3.8zM1582.45 632.9h3.8V694.1h-3.8zM1600.68 589.9h3.8V650.1h-3.8zM1609.80 353.9h3.8V586.1h-3.8zM1628.03 383.9h3.8V387.1h-3.8zM1637.14 368.9h3.8V380.1h-3.8zM1646.26 317.9h3.8V365.1h-3.8zM1691.84 521.9h3.8V531.1h-3.8zM1700.95 483.9h3.8V518.1h-3.8zM1764.76 637.9h3.8V731.1h-3.8zM1773.88 572.9h3.8V634.1h-3.8zM1792.11 615.9h3.8V628.1h-3.8zM1801.22 440.9h3.8V612.1h-3.8zM1846.80 468.9h3.8V539.1h-3.8zM1883.26 553.9h3.8V565.1h-3.8zM1919.72 636.9h3.8V682.1h-3.8zM1937.95 572.9h3.8V687.1h-3.8zM1974.42 603.9h3.8V683.1h-3.8zM2038.23 683.9h3.8V735.1h-3.8zM2065.57 709.9h3.8V717.1h-3.8zM2083.80 675.9h3.8V708.1h-3.8zM2092.92 626.9h3.8V672.1h-3.8zM2111.15 619.9h3.8V636.1h-3.8zM2120.26 589.9h3.8V616.1h-3.8zM2129.38 553.9h3.8V587.1h-3.8zM2138.50 547.9h3.8V551.1h-3.8zM2165.84 590.9h3.8V608.1h-3.8zM2174.96 565.9h3.8V587.1h-3.8zM2238.77 649.9h3.8V700.1h-3.8zM2257.00 725.9h3.8V744.1h-3.8zM2266.11 713.9h3.8V722.1h-3.8zM2275.23 680.9h3.8V710.1h-3.8zM2284.34 673.9h3.8V677.1h-3.8zM2302.57 638.9h3.8V688.1h-3.8zM2311.69 590.9h3.8V635.1h-3.8zM2348.15 617.9h3.8V624.1h-3.8zM2366.38 674.9h3.8V686.1h-3.8zM2393.73 938.9h3.8V940.1h-3.8zM2402.85 859.9h3.8V935.1h-3.8zM2411.96 819.9h3.8V856.1h-3.8zM2457.54 950.9h3.8V983.1h-3.8zM2466.65 933.9h3.8V947.1h-3.8zM2475.77 878.9h3.8V930.1h-3.8zM2503.12 931.9h3.8V946.1h-3.8zM2512.23 870.9h3.8V928.1h-3.8zM2521.35 824.9h3.8V867.1h-3.8zM2530.46 798.9h3.8V822.1h-3.8zM2576.04 872.9h3.8V906.1h-3.8zM2594.27 862.9h3.8V871.1h-3.8zM2621.62 960.9h3.8V1031.1h-3.8zM2639.85 975.9h3.8V1027.1h-3.8zM2658.08 947.9h3.8V986.1h-3.8zM2667.20 862.9h3.8V944.1h-3.8zM2740.12 1026.9h3.8V1053.1h-3.8zM2785.70 1116.9h3.8V1165.1h-3.8zM2794.81 1022.9h3.8V1113.1h-3.8zM2813.04 1023.9h3.8V1033.1h-3.8zM2840.39 1034.9h3.8V1043.1h-3.8zM2867.74 1060.9h3.8V1124.1h-3.8zM2876.85 1036.9h3.8V1057.1h-3.8z" fill="#2962ff"/>
<text x="2876.5" y="332.2" font-size="25" fill="#f05a5a" text-anchor="start" font-weight="normal" textLength="400.3" lengthAdjust="spacingAndGlyphs" xml:space="preserve">+2/8 Extreme Overshoot --  3.5156</text>
<text x="2927.4" y="435.2" font-size="25" fill="#f05a5a" text-anchor="start" font-weight="normal" textLength="299.4" lengthAdjust="spacingAndGlyphs" xml:space="preserve">+1/8 Overshoot --  3.3203</text>
<text x="2890.8" y="538.2" font-size="25" fill="#1bb3cf" text-anchor="start" font-weight="normal" textLength="370.9" lengthAdjust="spacingAndGlyphs" xml:space="preserve">8/8 Ultimate resistance --  3.125</text>
<text x="2869.4" y="642.6" font-size="25" fill="#f0a22e" text-anchor="start" font-weight="normal" textLength="415.6" lengthAdjust="spacingAndGlyphs" xml:space="preserve">7/8 Weak, Stop &amp; Reverse --  2.9297</text>
<text x="2878.5" y="746.7" font-size="25" fill="#d54ae8" text-anchor="start" font-weight="normal" textLength="396.1" lengthAdjust="spacingAndGlyphs" xml:space="preserve">6/8 Strong pivot reverse --  2.7344</text>
<text x="2877.0" y="851.1" font-size="25" fill="#4fa550" text-anchor="start" font-weight="normal" textLength="397.0" lengthAdjust="spacingAndGlyphs" xml:space="preserve">5/8 Top of trading range --  2.5391</text>
<text x="2875.7" y="954.1" font-size="25" fill="#1bb3cf" text-anchor="start" font-weight="normal" textLength="403.3" lengthAdjust="spacingAndGlyphs" xml:space="preserve">4/8 Major S/R pivot point --  2.3438</text>
<text x="2857.9" y="1058.5" font-size="25" fill="#4fa550" text-anchor="start" font-weight="normal" textLength="437.6" lengthAdjust="spacingAndGlyphs" xml:space="preserve">3/8 Bottom of trading range --  2.1484</text>
<text x="2871.6" y="1161.8" font-size="25" fill="#d54ae8" text-anchor="start" font-weight="normal" textLength="409.7" lengthAdjust="spacingAndGlyphs" xml:space="preserve">2/8 Strong, Pivot, reverse --  1.9531</text>
<text x="2869.2" y="1266.6" font-size="25" fill="#f0a22e" text-anchor="start" font-weight="normal" textLength="415.5" lengthAdjust="spacingAndGlyphs" xml:space="preserve">1/8 Weak, Stop &amp; Reverse --  1.7578</text>
<text x="2901.0" y="1367.9" font-size="25" fill="#1bb3cf" text-anchor="start" font-weight="normal" textLength="352.8" lengthAdjust="spacingAndGlyphs" xml:space="preserve">0/8 Ultimate Support--  1.5625</text>
<text x="2940.3" y="1472.6" font-size="25" fill="#4fa550" text-anchor="start" font-weight="normal" textLength="273.3" lengthAdjust="spacingAndGlyphs" xml:space="preserve">-1/8 Oversold--  1.3672</text>
<text x="2890.8" y="1575.6" font-size="25" fill="#4fa550" text-anchor="start" font-weight="normal" textLength="373.3" lengthAdjust="spacingAndGlyphs" xml:space="preserve">-2/8 Extreme Oversold--  1.1719</text>
<path d="M1783.5 649.3L3143.9 1392.6" stroke="#e4457b" stroke-width="3.6" stroke-linecap="round"/>
<path d="M2312.8 548.1L3234.9 1323.2" stroke="#e4457b" stroke-width="3.6" stroke-linecap="round"/>
<text x="3530.5" y="194.6" font-size="33" fill="#131722" text-anchor="end" font-weight="normal" textLength="103.0" lengthAdjust="spacingAndGlyphs" xml:space="preserve">3.8000</text>
<text x="3530.5" y="301.0" font-size="33" fill="#131722" text-anchor="end" font-weight="normal" textLength="103.0" lengthAdjust="spacingAndGlyphs" xml:space="preserve">3.6000</text>
<text x="3530.5" y="407.4" font-size="33" fill="#131722" text-anchor="end" font-weight="normal" textLength="103.0" lengthAdjust="spacingAndGlyphs" xml:space="preserve">3.4000</text>
<text x="3530.5" y="513.8" font-size="33" fill="#131722" text-anchor="end" font-weight="normal" textLength="103.0" lengthAdjust="spacingAndGlyphs" xml:space="preserve">3.2000</text>
<text x="3530.5" y="726.6" font-size="33" fill="#131722" text-anchor="end" font-weight="normal" textLength="103.0" lengthAdjust="spacingAndGlyphs" xml:space="preserve">2.8000</text>
<text x="3530.5" y="833.0" font-size="33" fill="#131722" text-anchor="end" font-weight="normal" textLength="103.0" lengthAdjust="spacingAndGlyphs" xml:space="preserve">2.6000</text>
<text x="3530.5" y="939.4" font-size="33" fill="#131722" text-anchor="end" font-weight="normal" textLength="103.0" lengthAdjust="spacingAndGlyphs" xml:space="preserve">2.4000</text>
<text x="3530.5" y="1045.8" font-size="33" fill="#131722" text-anchor="end" font-weight="normal" textLength="103.0" lengthAdjust="spacingAndGlyphs" xml:space="preserve">2.2000</text>
<text x="3530.5" y="1152.2" font-size="33" fill="#131722" text-anchor="end" font-weight="normal" textLength="103.0" lengthAdjust="spacingAndGlyphs" xml:space="preserve">2.0000</text>
<text x="3530.5" y="1258.6" font-size="33" fill="#131722" text-anchor="end" font-weight="normal" textLength="103.0" lengthAdjust="spacingAndGlyphs" xml:space="preserve">1.8000</text>
<text x="3530.5" y="1365.0" font-size="33" fill="#131722" text-anchor="end" font-weight="normal" textLength="103.0" lengthAdjust="spacingAndGlyphs" xml:space="preserve">1.6000</text>
<text x="3530.5" y="1471.4" font-size="33" fill="#131722" text-anchor="end" font-weight="normal" textLength="103.0" lengthAdjust="spacingAndGlyphs" xml:space="preserve">1.4000</text>
<text x="3530.5" y="1577.8" font-size="33" fill="#131722" text-anchor="end" font-weight="normal" textLength="103.0" lengthAdjust="spacingAndGlyphs" xml:space="preserve">1.2000</text>
<text x="3530.5" y="1684.2" font-size="33" fill="#131722" text-anchor="end" font-weight="normal" textLength="103.0" lengthAdjust="spacingAndGlyphs" xml:space="preserve">1.0000</text>
<text x="3530.5" y="1790.6" font-size="33" fill="#131722" text-anchor="end" font-weight="normal" textLength="103.0" lengthAdjust="spacingAndGlyphs" xml:space="preserve">0.8000</text>
<path d="M3404 231.0H3540a4 4 0 0 1 4 4V272.6a4 4 0 0 1 -4 4H3404z" fill="#f23645"/><text x="3531.5" y="265.2" font-size="32.5" fill="#ffffff" text-anchor="end" font-weight="normal" textLength="103.0" lengthAdjust="spacingAndGlyphs" xml:space="preserve">3.6680</text>
<path d="M3404 587.1H3540a4 4 0 0 1 4 4V628.7a4 4 0 0 1 -4 4H3404z" fill="#4a4a4a"/><text x="3531.5" y="621.3" font-size="32.5" fill="#ffffff" text-anchor="end" font-weight="normal" textLength="103.0" lengthAdjust="spacingAndGlyphs" xml:space="preserve">2.9985</text>
<path d="M3404 1196.0H3540a4 4 0 0 1 4 4V1237.6a4 4 0 0 1 -4 4H3404z" fill="#0c9a84"/><text x="3531.5" y="1230.2" font-size="32.5" fill="#ffffff" text-anchor="end" font-weight="normal" textLength="103.0" lengthAdjust="spacingAndGlyphs" xml:space="preserve">1.8521</text>
<rect x="3410.5" y="61.5" width="135" height="52" rx="7" fill="#ffffff" stroke="#e6e8ee" stroke-width="1.5"/>
<text x="3429.0" y="96.2" font-size="24" fill="#131722" text-anchor="start" font-weight="normal" textLength="48.0" lengthAdjust="spacingAndGlyphs" xml:space="preserve">USD</text>
<text x="97.9" y="1874.6" font-size="31" fill="#131722" text-anchor="middle" font-weight="normal" xml:space="preserve">Feb</text>
<text x="353.5" y="1874.6" font-size="31" fill="#131722" text-anchor="middle" font-weight="normal" xml:space="preserve">Mar</text>
<text x="636.3" y="1874.6" font-size="31" fill="#131722" text-anchor="middle" font-weight="normal" xml:space="preserve">Apr</text>
<text x="909.6" y="1874.6" font-size="31" fill="#131722" text-anchor="middle" font-weight="normal" xml:space="preserve">May</text>
<text x="1192.0" y="1874.6" font-size="31" fill="#131722" text-anchor="middle" font-weight="normal" xml:space="preserve">Jun</text>
<text x="1465.6" y="1874.6" font-size="31" fill="#131722" text-anchor="middle" font-weight="normal" xml:space="preserve">Jul</text>
<text x="1748.2" y="1874.6" font-size="31" fill="#131722" text-anchor="middle" font-weight="normal" xml:space="preserve">Aug</text>
<text x="2030.9" y="1874.6" font-size="31" fill="#131722" text-anchor="middle" font-weight="normal" xml:space="preserve">Sep</text>
<text x="2304.4" y="1874.6" font-size="31" fill="#131722" text-anchor="middle" font-weight="normal" xml:space="preserve">Oct</text>
<text x="2587.0" y="1874.6" font-size="31" fill="#131722" text-anchor="middle" font-weight="normal" xml:space="preserve">Nov</text>
<text x="2860.5" y="1874.6" font-size="31" fill="#131722" text-anchor="middle" font-weight="normal" xml:space="preserve">Dec</text>
<text x="3144.1" y="1874.4" font-size="31" fill="#131722" text-anchor="middle" font-weight="bold" textLength="80.8" lengthAdjust="spacingAndGlyphs" xml:space="preserve">2026</text>
<text x="20.3" y="40.2" font-size="24" fill="#131722" text-anchor="start" font-weight="normal" textLength="762.4" lengthAdjust="spacingAndGlyphs" xml:space="preserve">crispus9 created with TradingView.com, Dec 04, 2025 21:15 UTC+3</text>
<text x="36.9" y="93.9" font-size="23" fill="#131722" text-anchor="start" font-weight="normal" textLength="361.0" lengthAdjust="spacingAndGlyphs" xml:space="preserve">XRP / U.S. Dollar · 1D · Coinbase</text>
<text x="413.5" y="93.9" font-size="23" fill="#131722" text-anchor="start" font-weight="normal" textLength="16.8" lengthAdjust="spacingAndGlyphs" xml:space="preserve">O</text>
<text x="432.6" y="93.9" font-size="23" fill="#f23645" text-anchor="start" font-weight="normal" textLength="72.2" lengthAdjust="spacingAndGlyphs" xml:space="preserve">2.1978</text>
<text x="520.7" y="93.9" font-size="23" fill="#131722" text-anchor="start" font-weight="normal" textLength="14.9" lengthAdjust="spacingAndGlyphs" xml:space="preserve">H</text>
<text x="539.3" y="93.9" font-size="23" fill="#f23645" text-anchor="start" font-weight="normal" textLength="73.1" lengthAdjust="spacingAndGlyphs" xml:space="preserve">2.2145</text>
<text x="629.4" y="93.9" font-size="23" fill="#131722" text-anchor="start" font-weight="normal" textLength="10.6" lengthAdjust="spacingAndGlyphs" xml:space="preserve">L</text>
<text x="642.7" y="93.9" font-size="23" fill="#f23645" text-anchor="start" font-weight="normal" textLength="70.6" lengthAdjust="spacingAndGlyphs" xml:space="preserve">2.1140</text>
<text x="728.9" y="93.9" font-size="23" fill="#131722" text-anchor="start" font-weight="normal" textLength="15.4" lengthAdjust="spacingAndGlyphs" xml:space="preserve">C</text>
<text x="746.6" y="93.9" font-size="23" fill="#f23645" text-anchor="start" font-weight="normal" textLength="72.7" lengthAdjust="spacingAndGlyphs" xml:space="preserve">2.1255</text>
<text x="835.6" y="93.9" font-size="23" fill="#131722" text-anchor="start" font-weight="normal" textLength="32.6" lengthAdjust="spacingAndGlyphs" xml:space="preserve">Vol</text>
<text x="870.5" y="93.9" font-size="23" fill="#f23645" text-anchor="start" font-weight="normal" textLength="62.9" lengthAdjust="spacingAndGlyphs" xml:space="preserve">60.99</text>
<text x="940.4" y="93.9" font-size="23" fill="#f23645" text-anchor="start" font-weight="normal" textLength="18.2" lengthAdjust="spacingAndGlyphs" xml:space="preserve">M</text>
<text x="36.9" y="128.1" font-size="23" fill="#131722" text-anchor="start" font-weight="normal" textLength="187.3" lengthAdjust="spacingAndGlyphs" xml:space="preserve">EMA (100, close)</text>
<text x="241.7" y="128.1" font-size="23" fill="#2962ff" text-anchor="start" font-weight="normal" textLength="77.6" lengthAdjust="spacingAndGlyphs" xml:space="preserve">2.4678</text>
<text x="36.9" y="161.7" font-size="23" fill="#131722" text-anchor="start" font-weight="normal" textLength="376.5" lengthAdjust="spacingAndGlyphs" xml:space="preserve">Murrey Math Lines (64, 1.5, none)</text>
<g fill="#131313"><path d="M24 1943.9H47.7V1973.8H35.9V1955.7H24z"/><circle cx="57.9" cy="1949.8" r="5.9"/><path d="M68.5 1943.9H83.6L72 1973.8H58.3z"/></g>
<text x="98.2" y="1973.8" font-size="41" fill="#131313" text-anchor="start" font-weight="bold" textLength="241.8" lengthAdjust="spacingAndGlyphs" xml:space="preserve">TradingView</text>
</svg></body></html>
